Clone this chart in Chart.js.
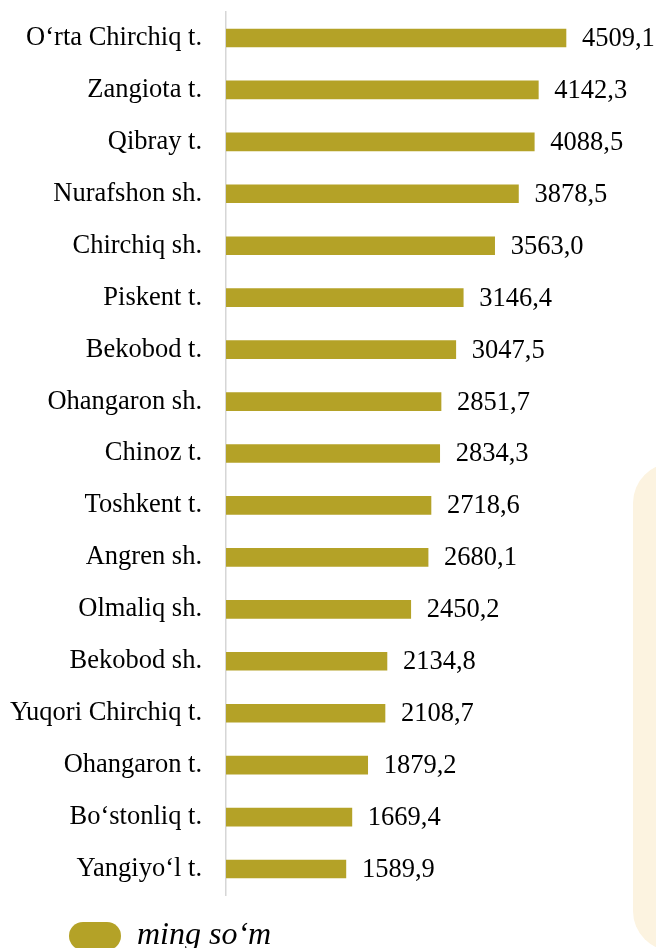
<!DOCTYPE html>
<html lang="uz">
<head>
  <meta charset="UTF-8" />
  <title>ming so‘m</title>
  <script src="https://cdn.jsdelivr.net/npm/chart.js"></script>
  <style>
    html, body { margin: 0; padding: 0; background: #fff; }
    .wrap { position: relative; width: 656px; height: 948px; overflow: hidden; }
    /* cream panel peeking in from the right edge */
    .panel {
      position: absolute; left: 633px; top: 463px;
      width: 80px; height: 488px;
      border-radius: 40px;
      background: #fcf3e0;
    }
    canvas { position: absolute; left: 0; top: 0; }
  </style>
</head>
<body>
<div class="wrap">
  <div class="panel"></div>
  <canvas id="barChart" width="656" height="948"></canvas>
</div>
<script>
  const districts = [
    'O‘rta Chirchiq t.', 'Zangiota t.', 'Qibray t.', 'Nurafshon sh.', 'Chirchiq sh.',
    'Piskent t.', 'Bekobod t.', 'Ohangaron sh.', 'Chinoz t.', 'Toshkent t.',
    'Angren sh.', 'Olmaliq sh.', 'Bekobod sh.', 'Yuqori Chirchiq t.', 'Ohangaron t.',
    'Bo‘stonliq t.', 'Yangiyo‘l t.'
  ];
  const values = [
    4509.1, 4142.3, 4088.5, 3878.5, 3563.0,
    3146.4, 3047.5, 2851.7, 2834.3, 2718.6,
    2680.1, 2450.2, 2134.8, 2108.7, 1879.2,
    1669.4, 1589.9
  ];
  const seriesName = 'ming so‘m';

  const barColor = '#b4a227';
  const serif = "'Liberation Serif', 'Times New Roman', serif";

  // value labels to the right of each bar, decimal comma
  const valueLabels = {
    id: 'valueLabels',
    afterDatasetsDraw(chart) {
      const ctx = chart.ctx;
      const meta = chart.getDatasetMeta(0);
      ctx.save();
      ctx.font = '26.5px ' + serif;
      ctx.fillStyle = '#000';
      ctx.textAlign = 'left';
      ctx.textBaseline = 'middle';
      meta.data.forEach((bar, i) => {
        const txt = values[i].toFixed(1).replace('.', ',');
        ctx.fillText(txt, bar.x + 16, bar.y + 1);
      });
      ctx.restore();
    }
  };

  // legend sits indented under the labels
  const legendShift = {
    id: 'legendShift',
    afterLayout(chart) {
      chart.legend.left = 44;
    }
  };

  new Chart(document.getElementById('barChart'), {
    type: 'bar',
    data: {
      labels: districts,
      datasets: [{
        label: seriesName,
        data: values,
        backgroundColor: barColor,
        borderWidth: 0,
        barThickness: 18
      }]
    },
    options: {
      indexAxis: 'y',
      responsive: false,
      animation: false,
      layout: { padding: { top: 12, left: 0, right: 53, bottom: 0 } },
      scales: {
        x: {
          display: false,
          min: 0,
          max: 5000
        },
        y: {
          grid: { display: false, drawTicks: false },
          border: { display: true, color: '#d6d6d6', width: 1.5 },
          ticks: {
            autoSkip: false,
            padding: 24,
            color: '#000',
            font: { family: serif, size: 26.5 }
          },
          afterFit(scale) {
            scale.width = 226;
            scale.paddingTop = 0;
            scale.paddingBottom = 0;
          }
        }
      },
      plugins: {
        tooltip: { enabled: false },
        legend: {
          position: 'bottom',
          align: 'start',
          maxHeight: 53,
          labels: {
            boxWidth: 52,
            boxHeight: 28,
            padding: 25,
            useBorderRadius: true,
            borderRadius: 14,
            color: '#000',
            font: { family: serif, size: 32, style: 'italic' }
          }
        }
      }
    },
    plugins: [valueLabels, legendShift]
  });
</script>
</body>
</html>
